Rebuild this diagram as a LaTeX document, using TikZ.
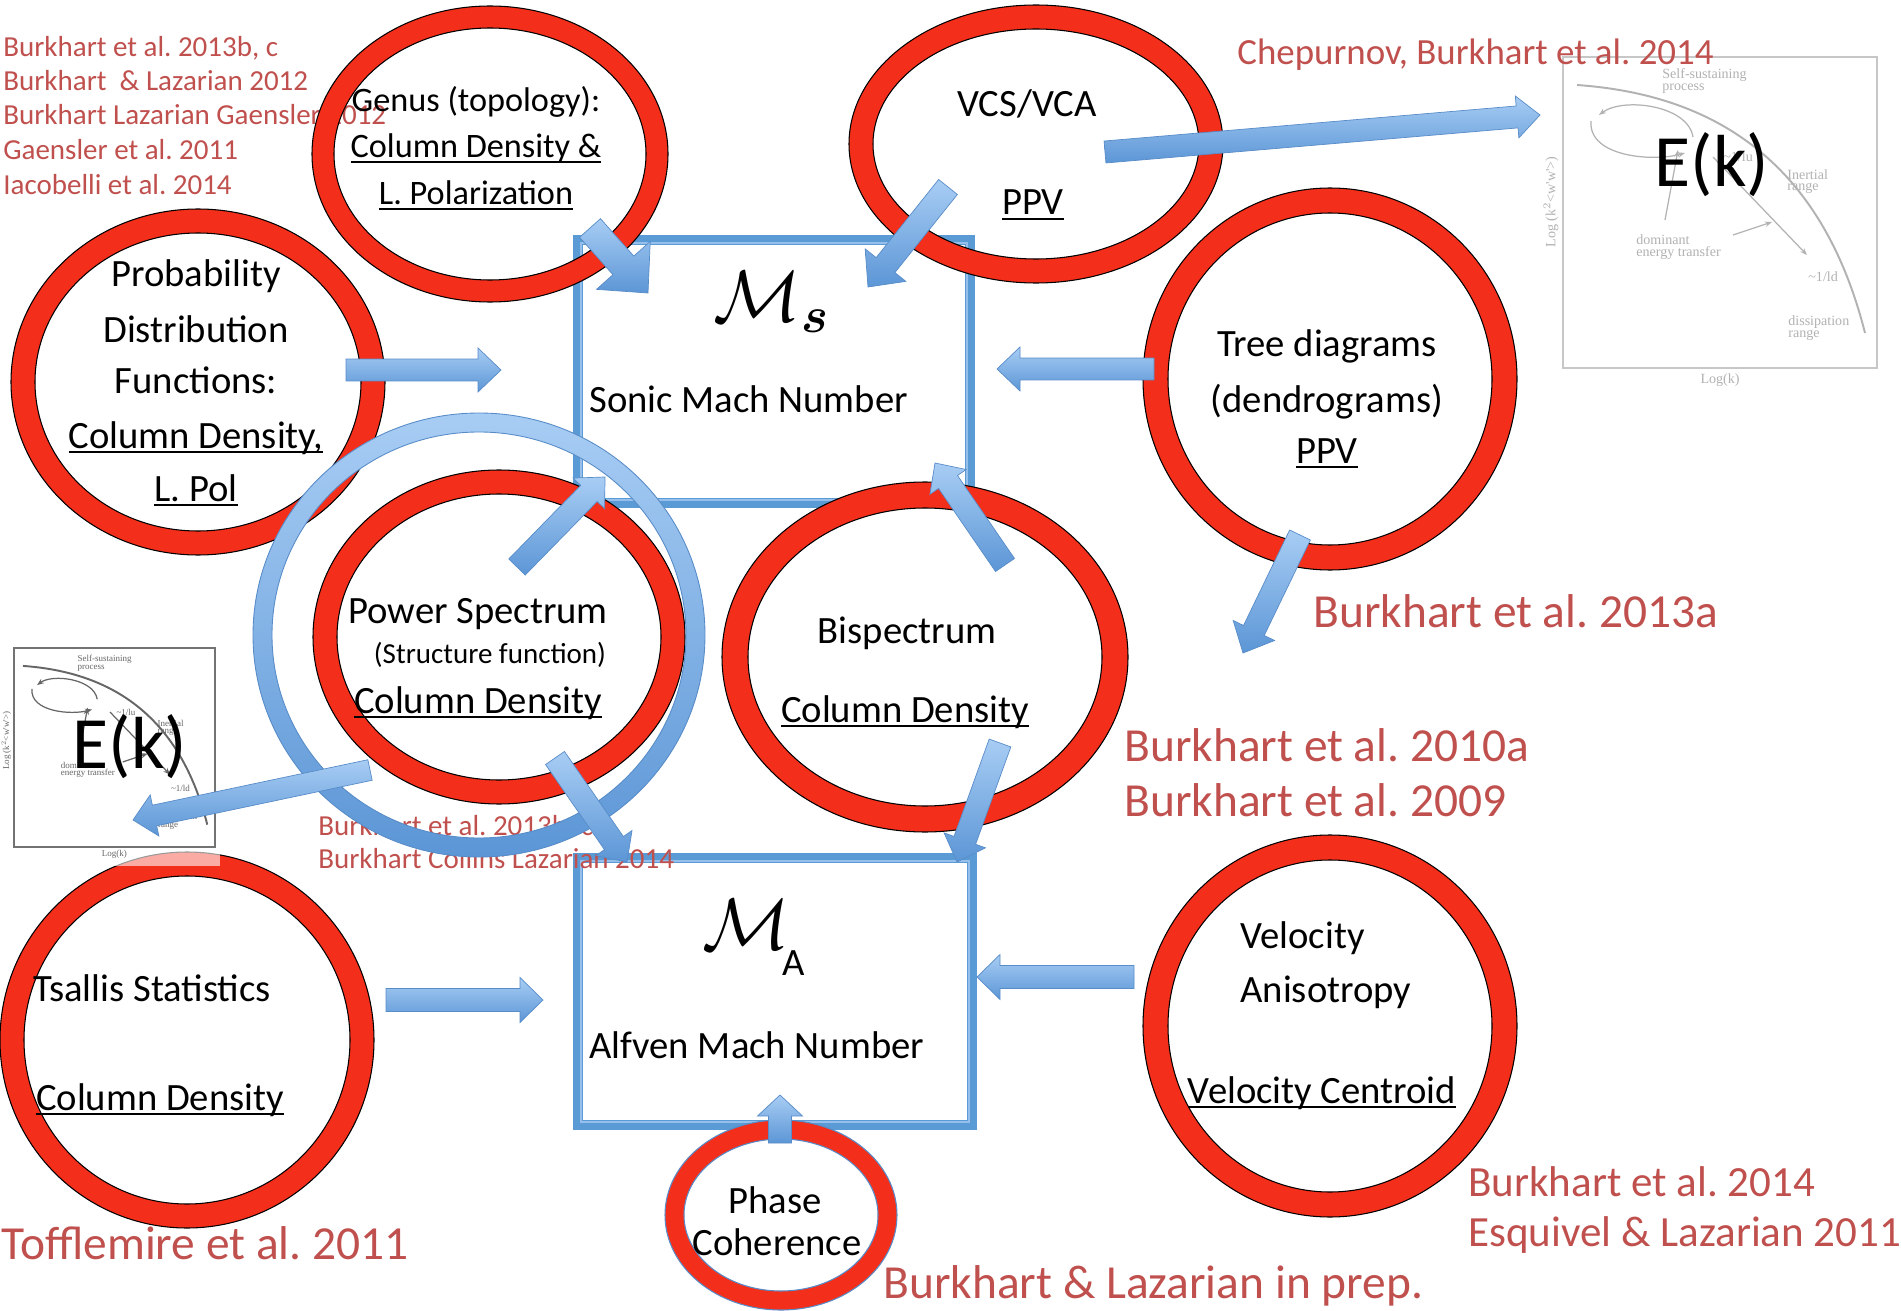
\documentclass[tikz,border=0pt]{standalone}
\usepackage{amsmath}
\usepackage{fontspec}
\setmainfont{Carlito}
\newfontfamily\plotfont{Liberation Serif}
\usetikzlibrary{calc,arrows.meta}
\frenchspacing
\definecolor{ringred}{RGB}{243,46,26}
\definecolor{citered}{RGB}{192,80,77}
\definecolor{boxblue}{RGB}{91,155,213}
\definecolor{boxlight}{RGB}{150,192,235}
\definecolor{arrlight}{RGB}{168,205,244}
\definecolor{arrdark}{RGB}{92,150,214}
\definecolor{arredge}{RGB}{88,140,200}
\newcommand\ulx[1]{\setbox0\hbox{#1}\rlap{\rule[-2.9pt]{\wd0}{1.1pt}}\box0}
\newcommand\blockarrow[5]{%
  \coordinate (bnk) at ($(#2)!#5!(#1)$);
  \shadedraw[arrowfill] ($(#1)!#3!90:(#2)$) -- ($(bnk)!#3!-90:(#1)$) -- ($(bnk)!#4!-90:(#1)$) -- (#2) -- ($(bnk)!#4!90:(#1)$) -- ($(bnk)!#3!90:(#1)$) -- ($(#1)!#3!-90:(#2)$) -- cycle;}
\newcommand\redring[6][black]{\filldraw[ring, draw=#1] (#2,#3) ellipse[x radius=#4, y radius=#5] (#2,#3) ellipse[x radius=#4-#6, y radius=#5-#6];}
\newcommand\ekplot[2]{%
  \draw[#1, line width=1.1pt] (0,0) rectangle (314,311);
  \draw[#2, line width=1.1pt] (14,28) .. controls (157,38) and (260,110) .. (302,276);
  \draw[#2, line width=0.7pt, -{Stealth[length=4pt]}] (130,80) .. controls (125,48) and (60,40) .. (36,58);
  \draw[#2, line width=0.7pt, -{Stealth[length=4pt]}] (28,64) .. controls (25,100) and (90,105) .. (122,96);
  \draw[#2, line width=0.7pt, -{Stealth[length=4pt]}] (102,163) -- (115,93);
  \draw[#2, line width=0.7pt, -{Stealth[length=4pt]}] (170,178) -- (209,165);
  \draw[#2, line width=0.7pt, -{Stealth[length=4pt]}] (150,100) -- (244,198);
  \begin{scope}[every node/.style={text=#2, font=\plotfont\fontsize{8}{9}\selectfont, inner sep=0pt, anchor=west}]
  \node (pl1) at (99,18) {Self-sustaining};
  \node (pl2) at (99,32) {process};
  \node (pl3) at (224,118) {Inertial};
  \node (pl4) at (224,131) {range};
  \node (pl5) at (73,183) {dominant};
  \node (pl6) at (73,196) {energy transfer};
  \node (pl7) at (160,100) {\textasciitilde1/lu};
  \node (pl8) at (245,220) {\textasciitilde1/ld};
  \node (pl9) at (225,265) {dissipation};
  \node (pl10) at (225,278) {range};
  \node[anchor=center] (pl11) at (157,323) {Log(k)};
  \node[anchor=center, rotate=90] (pl12) at (-12,145) {Log (k$^2$<w'w'>)};
  \end{scope}}
\begin{document}
\begin{tikzpicture}[x=0.02cm,y=-0.02cm,
  txt/.style={font=\fontsize{22}{26}\selectfont, inner sep=0pt, anchor=base},
  txtw/.style={txt, anchor=base west},
  txtg/.style={txt, font=\fontsize{19.5}{23}\selectfont},
  citesm/.style={text=citered, font=\fontsize{16.5}{20}\selectfont, inner sep=0pt, anchor=base west},
  citemd/.style={citesm, font=\fontsize{21}{25}\selectfont},
  citelg/.style={citesm, font=\fontsize{27}{32}\selectfont},
  citel2/.style={citesm, font=\fontsize{24.5}{29}\selectfont},
  ring/.style={fill=ringred, line width=0.6pt, even odd rule},
  machbox/.style={draw=boxblue, line width=5.6pt, inner sep=0pt, outer sep=0pt, rectangle},
  arrowfill/.style={top color=arrlight, bottom color=arrdark, draw=arredge, line width=0.4pt},
  ]
\fill[white] (0,0) rectangle (1901,1311);
\useasboundingbox (0,0) rectangle (1901,1311);

% top-right E(k) picture
\begin{scope}[shift={(1563,57)}]
  \ekplot{black!22}{black!30}
\end{scope}
\node[font=\fontsize{42}{48}\selectfont, inner sep=0pt] (ek1) at (1712,165) {E(k)};

% Mach boxes
\node[machbox, minimum width=7.84cm, minimum height=5.26cm] (sonic) at (774,371.5) {};
\draw[boxlight, line width=1.4pt] ([shift={(3,-3)}]sonic.south west) rectangle ([shift={(-3,3)}]sonic.north east);
\node[machbox, minimum width=7.88cm, minimum height=5.34cm] (alfven) at (775,991.5) {};
\draw[boxlight, line width=1.4pt] ([shift={(3,-3)}]alfven.south west) rectangle ([shift={(-3,3)}]alfven.north east);
\node[font=\fontsize{22}{26}\selectfont, scale=2, inner sep=0pt] (ms) at (772,302) {$\mathcal{M}_{\boldsymbol{s}}$};
\node[txtw] (sonictxt) at (589,413) {Sonic Mach Number};
\node[font=\fontsize{22}{26}\selectfont, scale=2, inner sep=0pt] (ma) at (746,925) {$\mathcal{M}$};
\node[txtw] (masub) at (782,975) {A};
\node[txtw] (alftxt) at (589,1058) {Alfven Mach Number};

% citations
\node[citesm] (c1) at (3,57) {Burkhart et al. 2013b, c};
\node[citesm] (c2) at (3,91) {Burkhart \ \& Lazarian 2012};
\node[citesm] (c3) at (3,125) {Burkhart Lazarian Gaensler 2012};
\node[citesm] (c4) at (3,160) {Gaensler et al. 2011};
\node[citesm] (c5) at (3,195) {Iacobelli et al. 2014};
\node[citemd] (c6) at (1237,65) {Chepurnov, Burkhart et al. 2014};
\node[citelg] (c7) at (1313,627) {Burkhart et al. 2013a};
\node[citelg] (c8) at (1124,761) {Burkhart et al. 2010a};
\node[citelg] (c9) at (1124,816) {Burkhart et al. 2009};
\node[citesm] (c10) at (318,835) {Burkhart et al. 2013b, c};
\node[citesm] (c11) at (318,868) {Burkhart Collins Lazarian 2014};
\node[citelg] (c12) at (1,1259) {Tofflemire et al. 2011};
\node[citel2] (c13) at (1468,1196) {Burkhart et al. 2014};
\node[citel2] (c14) at (1468,1246) {Esquivel \& Lazarian 2011};
\node[citelg] (c15) at (883,1298) {Burkhart \& Lazarian in prep.};

% red rings
\redring{490}{154}{178}{148}{22}
\redring{1036}{144}{187}{139}{24}
\redring{198}{382}{187}{173}{24}
\redring{1330}{379}{187}{191}{25}
\redring{499}{637}{186}{167}{24}
\redring{925}{657}{203}{175}{26}
\redring{187}{1040}{187}{188}{24}
\redring{1330}{1026}{187}{191}{25}
\redring[arredge]{781}{1215}{116}{95}{19}

% bottom-left E(k) picture
\fill[white, opacity=0.6] (9,640) rectangle (220,866);
\begin{scope}[shift={(14,648)}, scale=0.64, transform shape]
  \ekplot{black!55}{black!60}
\end{scope}
\node[font=\fontsize{42}{48}\selectfont, inner sep=0pt] (ek2) at (130,747) {E(k)};

% texts in rings
\node[txtg] (g1) at (476,112) {Genus (topology):};
\node[txtg] (g2) at (476,158) {\ulx{Column Density \&}};
\node[txtg] (g3) at (476,205) {\ulx{L. Polarization}};
\node[txt] (v1) at (1027,117) {VCS/VCA};
\node[txt] (v2) at (1033,215) {\ulx{PPV}};
\node[txt] (p1) at (196,287) {Probability};
\node[txt] (p2) at (196,342) {Distribution};
\node[txt] (p3) at (196,394) {Functions:};
\node[txt] (p4) at (196,448) {\ulx{Column Density,}};
\node[txt] (p5) at (196,501) {\ulx{L. Pol}};
\node[txt] (t1) at (1327,357) {Tree diagrams};
\node[txt] (t2) at (1327,412) {(dendrograms)};
\node[txt] (t3) at (1327,463) {\ulx{PPV}};
\node[txt] (ps1) at (478,623) {Power Spectrum};
\node[txt, font=\fontsize{16.5}{20}\selectfont] (ps2) at (490,663) {(Structure function)};
\node[txt] (ps3) at (478,713) {\ulx{Column Density}};
\node[txt] (b1) at (907,643) {Bispectrum};
\node[txt] (b2) at (905,722) {\ulx{Column Density}};
\node[txtw] (ts1) at (33,1001) {Tsallis Statistics};
\node[txt] (ts2) at (160,1110) {\ulx{Column Density}};
\node[txtw] (ve1) at (1240,948) {Velocity};
\node[txtw] (ve2) at (1240,1002) {Anisotropy};
\node[txt] (ve3) at (1322,1103) {\ulx{Velocity Centroid}};
\node[txt] (ph1) at (775,1213) {Phase};
\node[txt] (ph2) at (777,1255) {Coherence};

% big blue ring
\shade[even odd rule, top color=arrlight, bottom color=arrdark] (479,635) ellipse[x radius=226, y radius=222] (479,635) ellipse[x radius=207, y radius=203];
\draw[arredge, line width=0.5pt] (479,635) ellipse[x radius=226, y radius=222] (479,635) ellipse[x radius=207, y radius=203];

% arrow end points
\coordinate (a1s) at (590,228);  \coordinate (a1e) at (648,293);
\coordinate (a2s) at (948,187);  \coordinate (a2e) at (868,287);
\coordinate (a3s) at (1105,152); \coordinate (a3e) at (1540,115);
\coordinate (a4s) at (346,370);  \coordinate (a4e) at (501,370);
\coordinate (a5s) at (1154,369); \coordinate (a5e) at (997,369);
\coordinate (a6s) at (1300,535); \coordinate (a6e) at (1243,653);
\coordinate (a7s) at (517,567);  \coordinate (a7e) at (605,477);
\coordinate (a8s) at (1005,565); \coordinate (a8e) at (935,463);
\coordinate (a9s) at (555,758);  \coordinate (a9e) at (627,862);
\coordinate (a10s) at (370,770); \coordinate (a10e) at (133,820);
\coordinate (a11s) at (1000,743);\coordinate (a11e) at (957,862);
\coordinate (a12s) at (386,1000);\coordinate (a12e) at (543,1000);
\coordinate (a13s) at (1134,977);\coordinate (a13e) at (977,977);
\coordinate (a14s) at (780,1143);\coordinate (a14e) at (780,1095);

\blockarrow{a1s}{a1e}{0.28cm}{0.72cm}{0.74cm}
\blockarrow{a2s}{a2e}{0.24cm}{0.52cm}{0.56cm}
\blockarrow{a3s}{a3e}{0.22cm}{0.42cm}{0.46cm}
\blockarrow{a4s}{a4e}{0.22cm}{0.44cm}{0.46cm}
\blockarrow{a5s}{a5e}{0.22cm}{0.44cm}{0.46cm}
\blockarrow{a6s}{a6e}{0.23cm}{0.46cm}{0.5cm}
\blockarrow{a7s}{a7e}{0.23cm}{0.44cm}{0.46cm}
\blockarrow{a8s}{a8e}{0.23cm}{0.44cm}{0.46cm}
\blockarrow{a9s}{a9e}{0.23cm}{0.44cm}{0.46cm}
\blockarrow{a10s}{a10e}{0.21cm}{0.42cm}{0.44cm}
\blockarrow{a11s}{a11e}{0.23cm}{0.44cm}{0.46cm}
\blockarrow{a12s}{a12e}{0.23cm}{0.45cm}{0.46cm}
\blockarrow{a13s}{a13e}{0.23cm}{0.45cm}{0.46cm}
\blockarrow{a14s}{a14e}{0.23cm}{0.45cm}{0.42cm}
\end{tikzpicture}
\end{document}
